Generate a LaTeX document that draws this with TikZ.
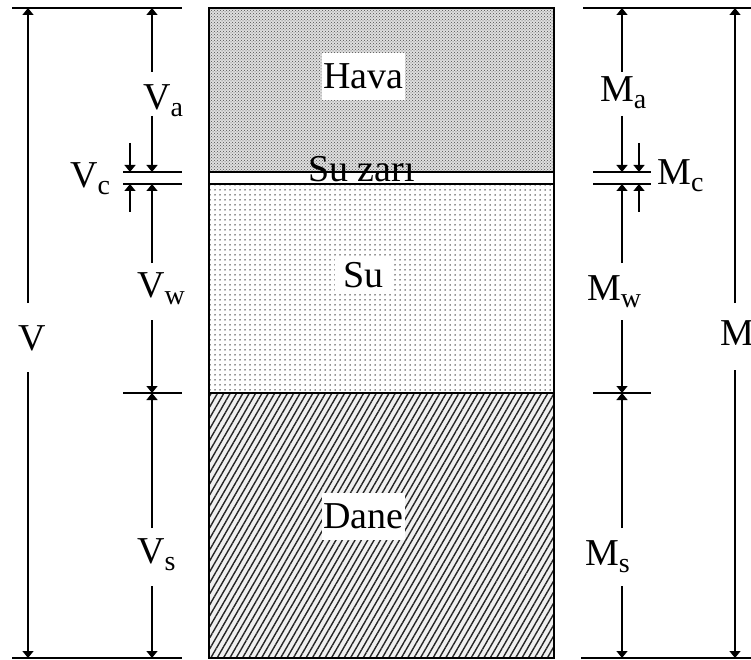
\documentclass[tikz,border=0pt]{standalone}
\usepackage{fontspec}
\setmainfont{Liberation Serif}
\usetikzlibrary{patterns,patterns.meta,arrows.meta}
\newcommand\sbs[1]{\raisebox{-7pt}{\fontsize{28}{30}\selectfont #1}}
\begin{document}
\begin{tikzpicture}[x=1pt,y=1pt,
  lbl/.style={inner sep=0pt, anchor=base west, font=\fontsize{38}{40}\selectfont},
  region/.style={inner sep=0pt, fill=white, font=\fontsize{38}{40}\selectfont},
  dim/.style={line width=1.4pt, -{Triangle[length=7pt,width=11pt]}},
  tickline/.style={line width=1.4pt},
  boxline/.style={line width=1.8pt}]
\useasboundingbox (0,0) rectangle (751,-660);

% ---- column regions ----
\path[preaction={fill=gray!25}, pattern=crosshatch dots, pattern color=black!70]
  (209,-8) rectangle (554,-172);
\path[pattern={Dots[distance=5pt, radius=0.75pt]}, pattern color=black!85]
  (209,-184) rectangle (554,-393);
\path[preaction={fill=gray!12}, pattern={Lines[angle=60, distance=5.5pt, line width=1.4pt]}, pattern color=black!85]
  (209,-393) rectangle (554,-658);

\coordinate (bx1) at (209,-172); \coordinate (bx2) at (554,-172);
\coordinate (bx3) at (209,-184); \coordinate (bx4) at (554,-184);
\coordinate (bx5) at (209,-393); \coordinate (bx6) at (554,-393);
\draw[boxline] (209,-8) rectangle (554,-658);
\draw[boxline] (bx1) -- (bx2);
\draw[boxline] (bx3) -- (bx4);
\draw[boxline] (bx5) -- (bx6);

\node[region, minimum width=83pt, minimum height=47pt] (hava) at (363.5,-76.5) {Hava};
\node[region, minimum width=57pt, minimum height=36pt] (su) at (363.5,-275) {Su};
\node[region, minimum width=83pt, minimum height=47pt] (dane) at (363.5,-516.5) {Dane};
\node[lbl] (zari) at (308,-182) {Su zarı};

% ---- left tick lines ----
\coordinate (lt1) at (12,-8);   \coordinate (lt2) at (182,-8);
\coordinate (lb1) at (12,-658); \coordinate (lb2) at (182,-658);
\coordinate (lc1) at (123,-172); \coordinate (lc2) at (182,-172);
\coordinate (lc3) at (123,-184); \coordinate (lc4) at (182,-184);
\coordinate (ls1) at (123,-393); \coordinate (ls2) at (182,-393);
\draw[tickline] (lt1) -- (lt2);
\draw[tickline] (lb1) -- (lb2);
\draw[tickline] (lc1) -- (lc2);
\draw[tickline] (lc3) -- (lc4);
\draw[tickline] (ls1) -- (ls2);

% ---- right tick lines ----
\coordinate (rt1) at (583,-8);   \coordinate (rt2) at (751,-8);
\coordinate (rb1) at (581,-658); \coordinate (rb2) at (751,-658);
\coordinate (rc1) at (593,-172); \coordinate (rc2) at (651,-172);
\coordinate (rc3) at (593,-184); \coordinate (rc4) at (651,-184);
\coordinate (rs1) at (593,-393); \coordinate (rs2) at (651,-393);
\draw[tickline] (rt1) -- (rt2);
\draw[tickline] (rb1) -- (rb2);
\draw[tickline] (rc1) -- (rc2);
\draw[tickline] (rc3) -- (rc4);
\draw[tickline] (rs1) -- (rs2);

% ---- left dimension arrows ----
% V
\coordinate (vA) at (28,-303); \coordinate (vT) at (28,-8);
\coordinate (vB) at (28,-372); \coordinate (vE) at (28,-658);
\draw[dim] (vA) -- (vT); \draw[dim] (vB) -- (vE);
% Va
\coordinate (vaA) at (152,-72);  \coordinate (vaT) at (152,-8);
\coordinate (vaB) at (152,-116); \coordinate (vaE) at (152,-172);
\draw[dim] (vaA) -- (vaT); \draw[dim] (vaB) -- (vaE);
% Vc
\coordinate (vcA) at (130,-143); \coordinate (vcT) at (130,-172);
\coordinate (vcB) at (130,-212); \coordinate (vcE) at (130,-184);
\draw[dim] (vcA) -- (vcT); \draw[dim] (vcB) -- (vcE);
% Vw
\coordinate (vwA) at (152,-263); \coordinate (vwT) at (152,-184);
\coordinate (vwB) at (152,-320); \coordinate (vwE) at (152,-393);
\draw[dim] (vwA) -- (vwT); \draw[dim] (vwB) -- (vwE);
% Vs
\coordinate (vsA) at (152,-528); \coordinate (vsT) at (152,-393);
\coordinate (vsB) at (152,-586); \coordinate (vsE) at (152,-658);
\draw[dim] (vsA) -- (vsT); \draw[dim] (vsB) -- (vsE);

% ---- right dimension arrows ----
% M
\coordinate (mA) at (735,-303); \coordinate (mT) at (735,-8);
\coordinate (mB) at (735,-370); \coordinate (mE) at (735,-658);
\draw[dim] (mA) -- (mT); \draw[dim] (mB) -- (mE);
% Ma
\coordinate (maA) at (622,-72);  \coordinate (maT) at (622,-8);
\coordinate (maB) at (622,-116); \coordinate (maE) at (622,-172);
\draw[dim] (maA) -- (maT); \draw[dim] (maB) -- (maE);
% Mc
\coordinate (mcA) at (639,-143); \coordinate (mcT) at (639,-172);
\coordinate (mcB) at (639,-212); \coordinate (mcE) at (639,-184);
\draw[dim] (mcA) -- (mcT); \draw[dim] (mcB) -- (mcE);
% Mw
\coordinate (mwA) at (622,-263); \coordinate (mwT) at (622,-184);
\coordinate (mwB) at (622,-320); \coordinate (mwE) at (622,-393);
\draw[dim] (mwA) -- (mwT); \draw[dim] (mwB) -- (mwE);
% Ms
\coordinate (msA) at (622,-528); \coordinate (msT) at (622,-393);
\coordinate (msB) at (622,-586); \coordinate (msE) at (622,-658);
\draw[dim] (msA) -- (msT); \draw[dim] (msB) -- (msE);

% ---- labels ----
\node[lbl] (lV)  at (18,-350)  {V};
\node[lbl] (lVa) at (143,-110) {V\sbs{a}};
\node[lbl] (lVc) at (70,-188)  {V\sbs{c}};
\node[lbl] (lVw) at (137,-297) {V\sbs{w}};
\node[lbl] (lVs) at (137,-563) {V\sbs{s}};
\node[lbl] (lM)  at (720,-345) {M};
\node[lbl] (lMa) at (600,-102) {M\sbs{a}};
\node[lbl] (lMc) at (657,-185) {M\sbs{c}};
\node[lbl] (lMw) at (587,-300) {M\sbs{w}};
\node[lbl] (lMs) at (585,-565) {M\sbs{s}};
\end{tikzpicture}
\end{document}
